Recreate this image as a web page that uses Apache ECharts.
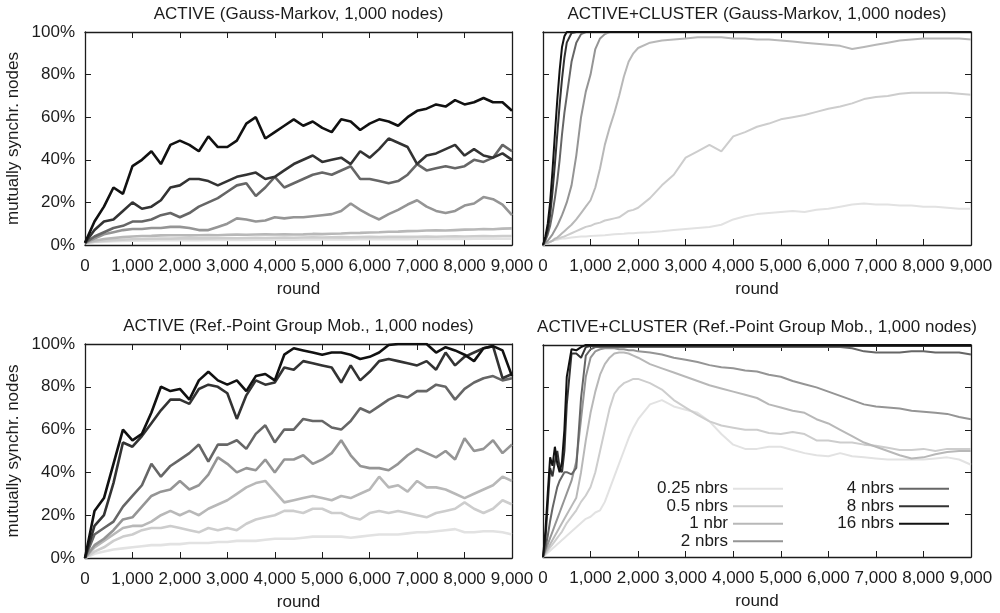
<!DOCTYPE html>
<html>
<head>
<meta charset="utf-8">
<script src="https://cdn.jsdelivr.net/npm/echarts@6/dist/echarts.min.js"></script>
<style>
  html, body { margin: 0; padding: 0; background: #fff; }
  #chart { width: 1000px; height: 613px; }
</style>
</head>
<body>
<div id="chart"></div>
<script>
// series names and grey levels (light -> dark)
var names = ['0.25 nbrs', '0.5 nbrs', '1 nbr', '2 nbrs', '4 nbrs', '8 nbrs', '16 nbrs'];
var greys = ['#e2e2e2', '#cdcdcd', '#b8b8b8', '#959595', '#666666', '#333333', '#111111'];

var titles = [
    'ACTIVE (Gauss-Markov, 1,000 nodes)',
    'ACTIVE+CLUSTER (Gauss-Markov, 1,000 nodes)',
    'ACTIVE (Ref.-Point Group Mob., 1,000 nodes)',
    'ACTIVE+CLUSTER (Ref.-Point Group Mob., 1,000 nodes)'
];

// rounds for the ACTIVE panels (every 200)
var roundsL = [0,200,400,600,800,1000,1200,1400,1600,1800,2000,2200,2400,2600,2800,3000,3200,3400,3600,3800,
    4000,4200,4400,4600,4800,5000,5200,5400,5600,5800,6000,6200,6400,6600,6800,7000,7200,7400,7600,7800,
    8000,8200,8400,8600,8800,9000];
// rounds for the ACTIVE+CLUSTER panels (denser at the start)
var roundsR = [0,50,100,150,200,250,300,350,400,450,500,600,700,800,900,1000,1100,1200,1300,1400,1500,1600,1700,1800,1900,2000,
    2250,2500,2750,3000,3250,3500,3750,4000,4250,4500,4750,5000,5250,5500,5750,6000,6250,6500,6750,7000,7250,7500,7750,8000,
    8250,8500,8750,9000];

// ACTIVE, Gauss-Markov (% mutually synchronized)
var tl025 = [1,1.4,1.6,1.8,1.9,2,2.1,2.1,2.2,2.2,2.3,2.3,2.3,2.4,2.4,2.4,2.5,2.4,2.5,2.5,2.5,2.6,2.5,2.6,2.6,2.6,2.6,2.7,2.6,2.7,2.7,2.7,2.7,2.8,2.7,2.8,2.8,2.8,2.8,2.9,2.8,2.9,2.9,2.9,2.9,2.9];
var tl05 = [1,1.6,2,2.3,2.5,2.7,2.8,2.9,3,3,3.1,3.1,3.2,3.1,3.2,3.3,3.2,3.3,3.4,3.3,3.4,3.5,3.4,3.5,3.6,3.5,3.6,3.7,3.6,3.7,3.8,3.7,3.8,3.9,3.8,3.9,4,3.9,4,4.1,4,4.1,4.2,4.1,4.2,4.2];
var tl1 = [1,2,2.8,3.3,3.7,4,4.2,4.3,4.5,4.6,4.6,4.5,4.6,4.7,4.6,4.8,4.9,4.8,4.9,5,4.9,5,4.9,5,5.2,5.1,5.3,5.4,5.6,5.7,5.9,6,6.2,6.3,6.5,6.6,6.8,6.9,6.8,7,7.2,7.3,7.5,7.4,7.7,7.8];
var tl2 = [1,3,5,6,7,7.5,7.5,8,8,8.5,8.5,8,7,7,8.5,10,12.5,12,11,11.5,13,12.5,13,13,13.5,14,14.5,16,19.5,16.5,14,12,14.5,16.5,19,21,18,16,15,16,18.5,19.5,22.5,21.5,19,14];
var tl4 = [1,4,6,8,9,11,11,12,14,15,13,15,18,20,22,25,28,29,23,27,32,27,29,31,33,34,33,35,37,31,31,30,29,30,33,38,35,36,37,36,37,40,39,41,47,44];
var tl8 = [1,7,11,12,16,20,17,18,21,27,28,31,31,30,28,30,32,33,34,31,32,35,38,40,42,39,40,41,38,44,41,45,50,48,46,38,42,43,45,47,42,45,42,41,43,40];
var tl16 = [1,11,18,27,24,37,40,44,38,47,49,47,44,51,46,46,49,57,60,50,53,56,59,56,58,55,53,59,58,54,57,59,58,56,60,63,64,66,65,68,66,67,69,67,67,63];

// ACTIVE+CLUSTER, Gauss-Markov
var tr025 = [0,0.5,1,1.5,2,2.3,2.5,2.8,3,3,3.2,3.5,3.8,4,4,4.2,4.4,4.5,4.6,4.8,5,5.2,5.3,5.5,5.5,5.7,6,6.4,7,7.5,8,8.5,9.5,12,13.5,14.5,15,15.5,16,15.5,16.5,17,18,19,19.5,19,19,18.5,18.5,18,18,17.5,17,17];
var tr05 = [0,0.5,1,1.5,2,2.5,3,3.3,3.7,4,4.5,5.5,6.5,7.5,8.5,9,10,10.5,11.5,12,12.5,13,14.5,16,16.5,17.5,22,28,33,41,44,47,44,51,53,55.5,57,59,60,61,62.5,64,65,66.5,68.5,69.5,70,71,71.5,71.5,71.5,71.5,71,70.5];
var tr1 = [0,0.5,1,1.5,2,3,3.5,4.5,5.5,6.5,7.5,9.5,12,15,18,21,27,36,47,55,62,70,79,86,90,92.5,95,96,96.5,97,97.5,97.5,97.5,97,97,96.5,96.5,96,95.5,95,94.5,94,93.5,92,93,94,95,96,96.5,97,97,97,97,96.5];
var tr2 = [0,1,2,3.5,5,7,9,11.5,14,17,20,28,42,60,72,80,92,97,99,100,100,100,100,100,100,100,100,100,100,100,100,100,100,100,100,100,100,100,100,100,100,100,100,100,100,100,100,100,100,100,100,100,100,100];
var tr4 = [0,2,5,9,15,22,30,40,52,62,70,86,95,99,100,100,100,100,100,100,100,100,100,100,100,100,100,100,100,100,100,100,100,100,100,100,100,100,100,100,100,100,100,100,100,100,100,100,100,100,100,100,100,100];
var tr8 = [0,3,7,14,25,38,52,66,78,88,95,99.5,100,100,100,100,100,100,100,100,100,100,100,100,100,100,100,100,100,100,100,100,100,100,100,100,100,100,100,100,100,100,100,100,100,100,100,100,100,100,100,100,100,100];
var tr16 = [0,4,10,20,35,52,68,82,93,98,100,100,100,100,100,100,100,100,100,100,100,100,100,100,100,100,100,100,100,100,100,100,100,100,100,100,100,100,100,100,100,100,100,100,100,100,100,100,100,100,100,100,100,100];

// ACTIVE, Ref.-Point Group Mobility
var bl025 = [0,2,3,4,4.5,5,5.5,6,6,6.5,6.5,7,7,7,7.5,7.5,8,8,8,8.5,9,9,9,9.5,10,10,10,10,9.5,10,10.5,11,11,11,11.5,12,12,12.5,13,13.5,12,12,12.5,12.5,12,11];
var bl05 = [0,3,5,8,10,11,13,14,14,15,14,13,12,14,13,14,13,16,18,19,20,22,22,21,23,23,21,21,19,18,21,22,21,22,21,20,19,21,22,23,26,23,21,23,27,25];
var bl1 = [0,5,8,11,14,15,15,17,20,22,20,22,20,23,25,27,30,33,35,36,31,26,27,28,29,28,27,29,28,30,32,38,33,34,31,36,33,33,32,30,28,30,32,34,38,36];
var bl2 = [0,6,9,13,18,19,24,29,31,32,36,32,34,39,47,44,40,42,41,46,40,46,46,48,44,46,49,55,48,43,42,42,41,44,48,51,49,47,50,46,56,50,51,55,49,53];
var bl4 = [0,11,14,17,24,29,34,44,38,43,46,49,53,45,53,53,55,51,58,62,54,60,60,65,64,64,61,60,64,70,68,71,74,76,75,78,78,81,80,74,79,82,84,85,83,84];
var bl8 = [0,15,20,35,54,52,57,63,69,74,74,72,79,81,80,77,65,76,83,81,82,89,88,92,91,90,89,82,90,83,87,92,93,92,91,90,92,88,96,90,94,96,98,99,84,86];
var bl16 = [0,22,28,44,60,55,58,68,80,78,79,74,83,87,83,81,83,78,85,86,83,95,98,97,96,95,96,96,95,93,94,96,99.5,100,100,100,100,96,98.5,97,95,92,98,99,97,85];

// ACTIVE+CLUSTER, Ref.-Point Group Mobility
var br025 = [0,1,2,3,4,5,6,7,8,9,10,12,14,16,18,19,21,22,26,32,38,44,50,56,61,65,72,74,71,69.5,68,64,58,53,51,51,52,52,50.5,49,48,47.5,49,47.5,47,46.5,46,46,46,46,46.5,47,46,43.5];
var br05 = [0,1.5,3,4.5,6,7.5,9,10.5,12,14,16,19,22,26,29,33,40,50,60,70,77,80,82,83,84,84,82,79,74,70.5,67,64,62,61,60,60,58.5,58,59,58,55,55,54,54,53,52.5,51.5,50.5,50.5,51,50,51,51,51];
var br1 = [0,2,4,6,8,10,12,14,16,18,20,24,28,40,55,68,78,86,91,94,96,96.5,96.5,96,95,94,91,89,87,85,83,81,79.5,78,76.5,75,72,70.5,69,68,65,63,60,57,54,52,50,48,46.5,47,48.5,49.5,50,50];
var br2 = [0,3,6,9,12,15,18,21,24,27,30,36,45,65,85,94,97,98,98.5,98.5,98.5,98,98,97.5,97.5,97,96.5,95.5,94,93,92,90.5,89.5,89,88,87.5,86,85,83,81.5,80,78,76,74,72,71,70.5,70,69,68.5,68,67.5,66,65];
var br4 = [0,4,10,17,23,28,33,36,38,40,40,39,42,75,95,98,99,99,99,99,99,99,99,99,99,99,99,99,99,99,99,99,99,99,99,99,99,99,99,99,99,99,99,98.5,97,96.5,96.5,96.5,97,97,96.5,96.5,96.5,95.5];
var br8 = [0,8,25,42,38,45,50,42,40,50,72,96,96,94,99,99.5,99.5,99.5,99.5,99.5,99.5,99.5,99.5,99.5,99.5,99.5,99.5,99.5,99.5,99.5,99.5,99.5,99.5,99.5,99.5,99.5,99.5,99.5,99.5,99.5,99.5,99.5,99.5,99.5,99.5,99.5,99.5,99.5,99.5,99.5,99.5,99.5,99.5,99.5];
var br16 = [0,12,30,47,43,52,44,40,45,60,85,98,97.5,99,100,100,100,100,100,100,100,100,100,100,100,100,100,100,100,100,100,100,100,100,100,100,100,100,100,100,100,100,100,100,100,100,100,100,100,100,100,100,100,100];

var xTicks = [0,1000,2000,3000,4000,5000,6000,7000,8000,9000];
var yTicks = [0,20,40,60,80,100];

var panels = [
    {rounds: roundsL, sets: [tl025, tl05, tl1, tl2, tl4, tl8, tl16], lw: 2.6, left: 85,  top: 32,  w: 427, h: 213, ylab: true},
    {rounds: roundsR, sets: [tr025, tr05, tr1, tr2, tr4, tr8, tr16], lw: 2,   left: 543, top: 32,  w: 428, h: 213, ylab: false},
    {rounds: roundsL, sets: [bl025, bl05, bl1, bl2, bl4, bl8, bl16], lw: 2.6, left: 85,  top: 344, w: 427, h: 214, ylab: true},
    {rounds: roundsR, sets: [br025, br05, br1, br2, br4, br8, br16], lw: 2,   left: 543, top: 345, w: 428, h: 212, ylab: false}
];

var FONT = 'Liberation Sans, Arial, Helvetica, sans-serif';
var FS = 17;
var INK = '#1c1c1c';
var frameLine = {show: true, onZero: false, lineStyle: {color: INK, width: 1.3}};
var innerTick = {show: true, inside: true, length: 6, lineStyle: {color: INK, width: 1}};

function pairs(rounds, vals) {
    var out = [];
    for (var i = 0; i < vals.length; i++) {
        out.push([rounds[i], vals[i]]);
    }
    return out;
}

var grids = [], xAxes = [], yAxes = [], series = [], titleList = [];

panels.forEach(function (p, gi) {
    grids.push({left: p.left, top: p.top, width: p.w, height: p.h});
    titleList.push({
        text: titles[gi],
        left: p.left + p.w / 2,
        top: p.top - 26,
        textAlign: 'center',
        padding: 0,
        textStyle: {fontFamily: FONT, fontSize: FS, fontWeight: 'normal', color: INK}
    });
    xAxes.push({
        type: 'value', gridIndex: gi, position: 'bottom',
        min: xTicks[0], max: xTicks[xTicks.length - 1], interval: 1000,
        name: 'round', nameLocation: 'middle', nameGap: 36,
        nameTextStyle: {fontFamily: FONT, fontSize: FS, color: INK},
        axisLine: frameLine, axisTick: innerTick,
        axisLabel: {fontFamily: FONT, fontSize: FS, color: INK, margin: 13,
            formatter: function (v) { return v.toLocaleString('en-US'); }},
        splitLine: {show: false}
    });
    xAxes.push({
        type: 'value', gridIndex: gi, position: 'top',
        min: xTicks[0], max: xTicks[xTicks.length - 1], interval: 1000,
        axisLine: frameLine, axisTick: innerTick,
        axisLabel: {show: false}, splitLine: {show: false}
    });
    yAxes.push({
        type: 'value', gridIndex: gi, position: 'left',
        min: yTicks[0], max: yTicks[yTicks.length - 1], interval: 20,
        name: p.ylab ? 'mutually synchr. nodes' : '',
        nameLocation: 'middle', nameGap: 63, nameRotate: 90,
        nameTextStyle: {fontFamily: FONT, fontSize: FS, color: INK},
        axisLine: frameLine, axisTick: innerTick,
        axisLabel: {show: p.ylab, fontFamily: FONT, fontSize: FS, color: INK, margin: 10, formatter: '{value}%'},
        splitLine: {show: false}
    });
    yAxes.push({
        type: 'value', gridIndex: gi, position: 'right',
        min: yTicks[0], max: yTicks[yTicks.length - 1], interval: 20,
        axisLine: frameLine, axisTick: innerTick,
        axisLabel: {show: false}, splitLine: {show: false}
    });
    p.sets.forEach(function (vals, si) {
        series.push({
            name: names[si],
            type: 'line',
            xAxisIndex: gi * 2,
            yAxisIndex: gi * 2,
            data: pairs(p.rounds, vals),
            color: greys[si],
            symbol: 'none',
            showSymbol: false,
            silent: true,
            lineStyle: {color: greys[si], width: p.lw},
            z: 2 + si
        });
    });
});

var legendBase = {
    orient: 'vertical',
    align: 'right',
    icon: 'rect',
    itemWidth: 50,
    itemHeight: 2,
    itemGap: 0,
    padding: 0,
    top: 480,
    selectedMode: false,
    textStyle: {fontFamily: FONT, fontSize: FS, color: INK, lineHeight: 17.5}
};

var option = {
    animation: false,
    backgroundColor: '#ffffff',
    textStyle: {fontFamily: FONT},
    title: titleList,
    legend: [
        Object.assign({}, legendBase, {data: names.slice(0, 4), right: 217}),
        Object.assign({}, legendBase, {data: names.slice(4), right: 51})
    ],
    grid: grids,
    xAxis: xAxes,
    yAxis: yAxes,
    series: series
};

var chart = echarts.init(document.getElementById('chart'));
chart.setOption(option);
window.onresize = chart.resize;
</script>
</body>
</html>
